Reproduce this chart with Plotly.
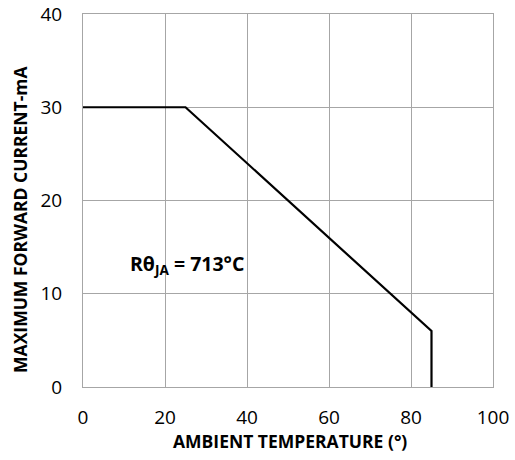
import plotly.graph_objects as go

temp = [0, 25, 85, 85]
current = [30, 30, 6, 0]
x_ticks = [0, 20, 40, 60, 80, 100]
y_ticks = [0, 10, 20, 30, 40]

fig = go.Figure()
fig.add_trace(go.Scatter(x=temp, y=current, mode="lines",
                         line=dict(color="black", width=2.2), showlegend=False))

fig.add_annotation(x=25.4, y=13.1, xref="x", yref="y",
                   text="Rθ<sub>JA</sub> = 713°C", showarrow=False,
                   font=dict(family="Open Sans", size=19.5, color="black", weight="bold"))

fig.add_annotation(x=0.505, y=0, xref="paper", yref="paper", yshift=-54,
                   text="AMBIENT TEMPERATURE (°)", showarrow=False, yanchor="middle",
                   font=dict(family="Open Sans", size=17.5, color="black", weight="bold"))

fig.add_annotation(x=0, y=0.448, xref="paper", yref="paper", xshift=-63,
                   text="MAXIMUM FORWARD CURRENT-mA", showarrow=False, textangle=-90,
                   xanchor="center", yanchor="middle",
                   font=dict(family="Open Sans", size=17.5, color="black", weight="bold"))

axis_common = dict(showgrid=True, gridcolor="#a6a6a6", gridwidth=1,
                   showline=True, linecolor="#a6a6a6", linewidth=1, mirror=True,
                   zeroline=False, ticks="", automargin=False,
                   tickfont=dict(family="Open Sans", size=19, color="black"))

fig.update_xaxes(range=[0, 100], tickvals=x_ticks, ticklabelstandoff=13, **axis_common)
fig.update_yaxes(range=[0, 40], tickvals=y_ticks, ticklabelstandoff=16, **axis_common)

fig.update_layout(width=515, height=460, margin=dict(l=83, r=22, t=14, b=73, autoexpand=False),
                  plot_bgcolor="white", paper_bgcolor="white")

fig.write_html("out.html", config={"displayModeBar": False},
               post_script="document.body.style.margin='0';")
